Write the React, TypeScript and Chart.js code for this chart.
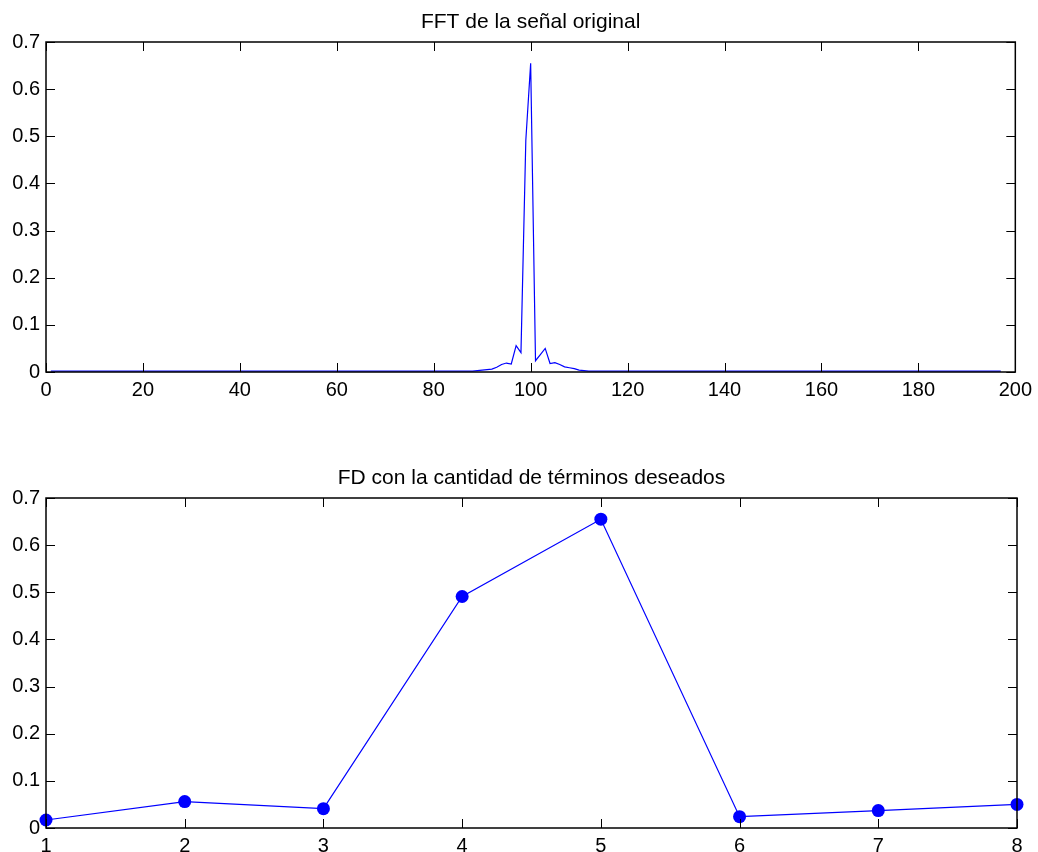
import React, { useEffect, useRef } from "react";
import { Chart, registerables } from "chart.js";

Chart.register(...registerables);

const fftTitle = "FFT de la señal original";
const fdTitle = "FD con la cantidad de términos deseados";

// FFT magnitude, samples 1..197
const fftValues = [
  0.002, 0.002, 0.002, 0.002, 0.002, 0.002, 0.002, 0.002, 0.002, 0.002,
  0.002, 0.002, 0.002, 0.002, 0.002, 0.002, 0.002, 0.002, 0.002, 0.002,
  0.002, 0.002, 0.002, 0.002, 0.002, 0.002, 0.002, 0.002, 0.002, 0.002,
  0.002, 0.002, 0.002, 0.002, 0.002, 0.002, 0.002, 0.002, 0.002, 0.002,
  0.002, 0.002, 0.002, 0.002, 0.002, 0.002, 0.002, 0.002, 0.002, 0.002,
  0.002, 0.002, 0.002, 0.002, 0.002, 0.002, 0.002, 0.002, 0.002, 0.002,
  0.002, 0.002, 0.002, 0.002, 0.002, 0.002, 0.002, 0.002, 0.002, 0.002,
  0.002, 0.002, 0.002, 0.002, 0.002, 0.002, 0.002, 0.002, 0.002, 0.002,
  0.002, 0.002, 0.002, 0.002, 0.002, 0.002, 0.002, 0.002,
  0.003, 0.004, 0.005, 0.006, 0.010, 0.016, 0.019, 0.017, 0.056, 0.041,
  0.491, 0.655, 0.024, 0.037, 0.050, 0.018, 0.020, 0.016, 0.011, 0.009,
  0.007, 0.004, 0.003,
  0.002, 0.002, 0.002, 0.002, 0.002, 0.002, 0.002, 0.002, 0.002, 0.002,
  0.002, 0.002, 0.002, 0.002, 0.002, 0.002, 0.002, 0.002, 0.002, 0.002,
  0.002, 0.002, 0.002, 0.002, 0.002, 0.002, 0.002, 0.002, 0.002, 0.002,
  0.002, 0.002, 0.002, 0.002, 0.002, 0.002, 0.002, 0.002, 0.002, 0.002,
  0.002, 0.002, 0.002, 0.002, 0.002, 0.002, 0.002, 0.002, 0.002, 0.002,
  0.002, 0.002, 0.002, 0.002, 0.002, 0.002, 0.002, 0.002, 0.002, 0.002,
  0.002, 0.002, 0.002, 0.002, 0.002, 0.002, 0.002, 0.002, 0.002, 0.002,
  0.002, 0.002, 0.002, 0.002, 0.002, 0.002, 0.002, 0.002, 0.002, 0.002,
  0.002, 0.002, 0.002, 0.002, 0.002, 0.002,
];

const fdTerms = [1, 2, 3, 4, 5, 6, 7, 8];
const fdValues = [0.017, 0.056, 0.041, 0.491, 0.655, 0.024, 0.037, 0.05];

const FONT = "'Liberation Sans', Arial, sans-serif";
const W = 1038;
const H = 426;

const boxPlugin = (title: string) => ({
  id: "matlabBox",
  afterDraw(chart: any) {
    const ctx = chart.ctx;
    const { left, right, top, bottom } = chart.chartArea;
    const xs = chart.scales.x;
    const ys = chart.scales.y;
    const tl = 9;
    ctx.save();
    ctx.strokeStyle = "#000";
    ctx.lineWidth = 1;
    ctx.beginPath();
    xs.ticks.forEach((t: any) => {
      const px = Math.round(xs.getPixelForValue(t.value)) + 0.5;
      ctx.moveTo(px, bottom);
      ctx.lineTo(px, bottom - tl);
      ctx.moveTo(px, top);
      ctx.lineTo(px, top + tl);
    });
    ys.ticks.forEach((t: any) => {
      const py = Math.round(ys.getPixelForValue(t.value)) + 0.5;
      ctx.moveTo(left, py);
      ctx.lineTo(left + tl, py);
      ctx.moveTo(right, py);
      ctx.lineTo(right - tl, py);
    });
    ctx.stroke();
    ctx.lineWidth = 1.5;
    ctx.strokeRect(left, top, right - left, bottom - top);
    ctx.fillStyle = "#000";
    ctx.font = `21px ${FONT}`;
    ctx.textAlign = "center";
    ctx.textBaseline = "alphabetic";
    ctx.fillText(title, (left + right) / 2, top - 14);
    ctx.restore();
  },
});

function makeOptions(xmin: number, xmax: number, xstep: number, topPad: number, xHeight: number): any {
  return {
    responsive: false,
    animation: false,
    devicePixelRatio: 1,
    layout: { padding: { top: topPad, right: 21, left: 0, bottom: 0 } },
    plugins: { legend: { display: false }, tooltip: { enabled: false }, title: { display: false } },
    scales: {
      x: {
        type: "linear",
        min: xmin,
        max: xmax,
        grid: { display: false, drawTicks: false },
        border: { display: false },
        ticks: {
          stepSize: xstep,
          color: "#000",
          font: { family: FONT, size: 20 },
          padding: 6,
          maxRotation: 0,
          autoSkip: false,
        },
        afterFit(scale: any) {
          scale.height = xHeight;
        },
      },
      y: {
        type: "linear",
        min: 0,
        max: 0.7,
        grid: { display: false, drawTicks: false },
        border: { display: false },
        ticks: {
          stepSize: 0.1,
          color: "#000",
          font: { family: FONT, size: 20 },
          padding: 6,
          callback: (v: number) => String(Math.round(v * 10) / 10),
        },
        afterFit(scale: any) {
          scale.width = 46;
        },
      },
    },
  };
}

export default function App() {
  const ref1 = useRef<HTMLCanvasElement>(null);
  const ref2 = useRef<HTMLCanvasElement>(null);

  useEffect(() => {
    document.body.style.margin = "0";
    const c1 = new Chart(ref1.current!, {
      type: "line",
      data: {
        datasets: [
          {
            data: fftValues.map((v, i) => ({ x: i + 1, y: v })),
            borderColor: "#0000ff",
            borderWidth: 1.2,
            pointRadius: 0,
            fill: false,
            tension: 0,
          },
        ],
      },
      options: makeOptions(0, 200, 20, 42, H - 372),
      plugins: [boxPlugin(fftTitle)],
    });
    const c2 = new Chart(ref2.current!, {
      type: "line",
      data: {
        datasets: [
          {
            data: fdValues.map((v, i) => ({ x: fdTerms[i], y: v })),
            borderColor: "#0000ff",
            borderWidth: 1.2,
            pointRadius: 6.5,
            pointBackgroundColor: "#0000ff",
            pointBorderColor: "#0000ff",
            pointBorderWidth: 0,
            fill: false,
            tension: 0,
            clip: false,
          },
        ],
      },
      options: makeOptions(1, 8, 1, 72, H - 402),
      plugins: [boxPlugin(fdTitle)],
    });
    return () => {
      c1.destroy();
      c2.destroy();
    };
  }, []);

  return (
    <div style={{ position: "absolute", left: 0, top: 0, width: W, height: 2 * H, background: "#fff" }}>
      <canvas ref={ref1} width={W} height={H} style={{ display: "block", width: W, height: H }} />
      <canvas ref={ref2} width={W} height={H} style={{ display: "block", width: W, height: H }} />
    </div>
  );
}
